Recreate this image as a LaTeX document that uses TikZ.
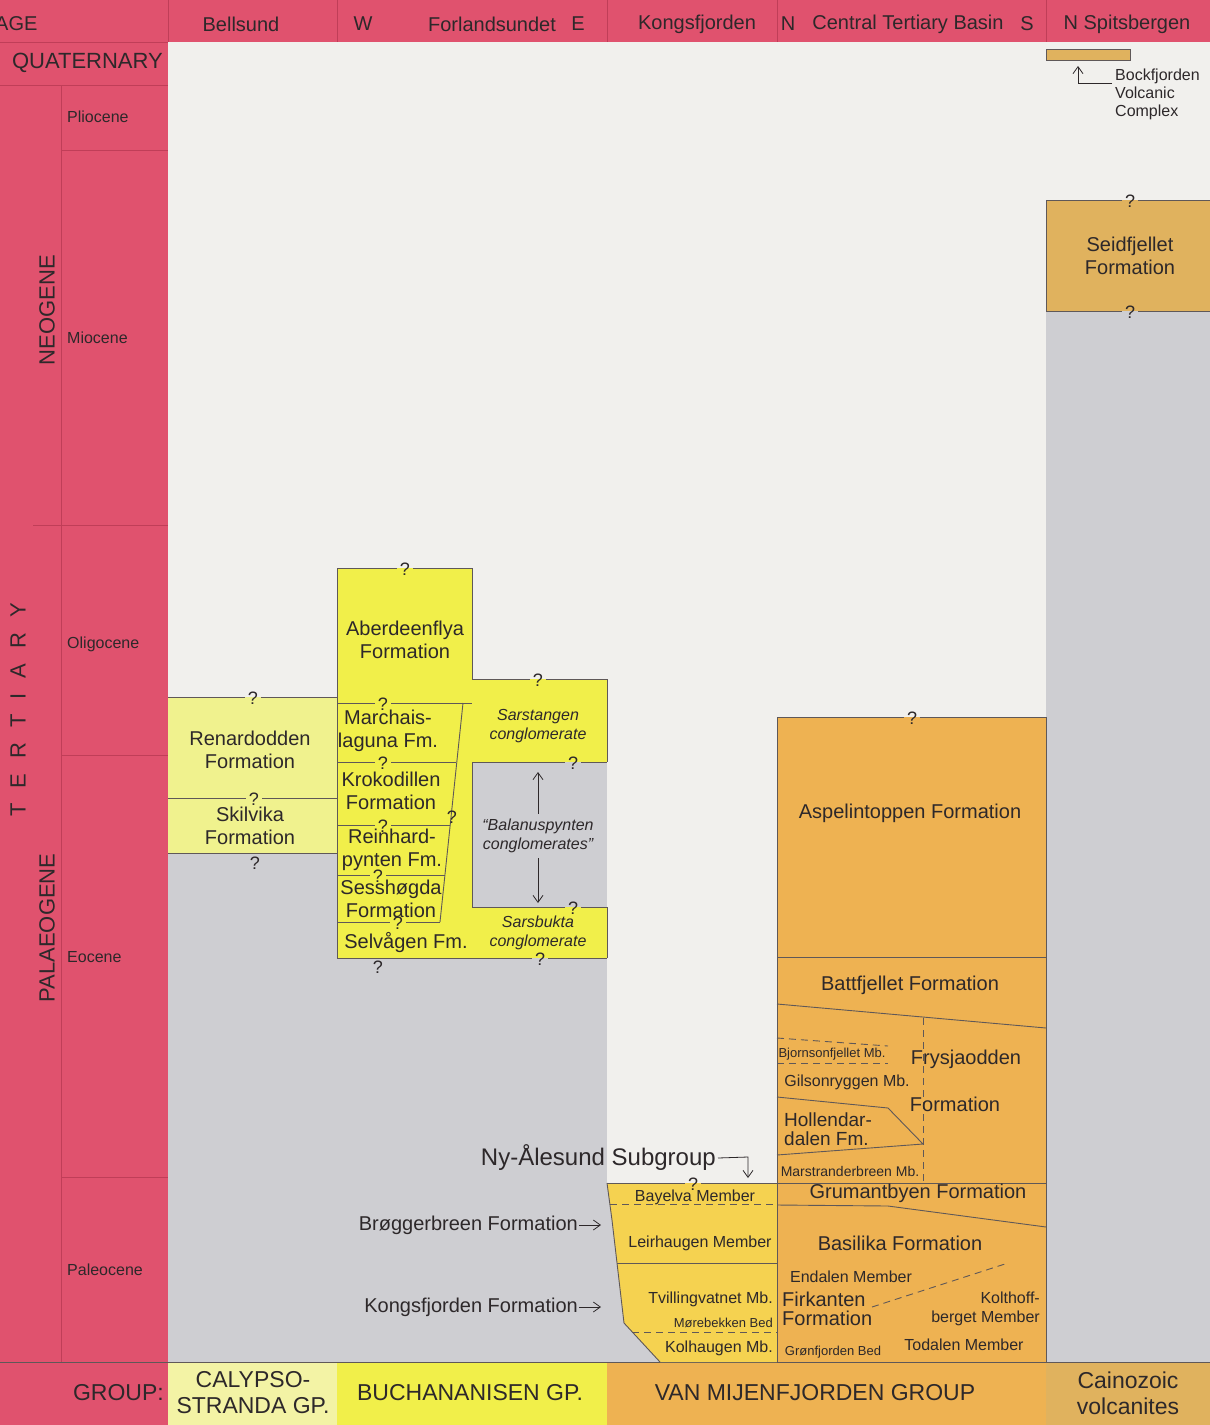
\documentclass[tikz,border=0pt]{standalone}
\usepackage{fontspec}
\setmainfont{Liberation Sans}
\usetikzlibrary{arrows.meta}
\definecolor{pinkc}{RGB}{224,82,110}
\definecolor{pinkln}{RGB}{192,62,88}
\definecolor{bgw}{RGB}{241,240,237}
\definecolor{bgg}{RGB}{206,206,210}
\definecolor{paley}{RGB}{240,242,142}
\definecolor{calyc}{RGB}{243,243,165}
\definecolor{yel}{RGB}{241,239,74}
\definecolor{kyel}{RGB}{245,210,80}
\definecolor{orng}{RGB}{238,178,82}
\definecolor{tanc}{RGB}{224,178,94}
\definecolor{ink}{RGB}{45,40,42}
\definecolor{linec}{RGB}{95,88,88}
\newcommand{\fsz}[2]{\fontsize{#1pt}{#2pt}\selectfont}
\newcommand{\qline}[4]{%
  \draw[edge] (#1,#3) -- ({#4-8},#3) ({#4+8},#3) -- (#2,#3);
  \node[qm] at (#4,{#3+1}) {?};}
\begin{document}
\begin{tikzpicture}[x=1pt,y=-1pt,
  lbl/.style={text=ink, inner sep=0pt, align=center},
  edge/.style={draw=linec, line width=0.9pt},
  dedge/.style={draw=linec, line width=0.9pt, dash pattern=on 7pt off 5pt},
  pl/.style={draw=pinkln, line width=0.8pt},
  qm/.style={text=ink, inner sep=0pt, font=\fsz{18}{18}},
  arr/.style={draw=ink, line width=0.8pt, -{Straight Barb[length=7pt,width=10pt]}},
  hdr/.style={lbl, font=\fsz{20}{22}},
  fm/.style={lbl, font=\fsz{20}{23}},
  mb/.style={lbl, font=\fsz{16}{18}},
  sm/.style={lbl, font=\fsz{13}{15}},
  cg/.style={lbl, font=\fsz{16}{19}\itshape},
  grp/.style={lbl, font=\fsz{23}{26}}]
\useasboundingbox (0,0) rectangle (1210,1425);
% ---------- backgrounds
\fill[bgw] (168,42) rectangle (1210,1362);
\fill[bgg] (168,853) rectangle (607,1362);
\fill[bgg] (472,762) rectangle (607,907);
\fill[bgg] (607,1183) rectangle (665,1362);
\fill[bgg] (1046,311) rectangle (1210,1362);
% ---------- pink header and age column
\fill[pinkc] (0,0) rectangle (1210,42);
\fill[pinkc] (0,42) rectangle (168,1362);
\draw[pl] (168,0)--(168,42) (337,0)--(337,42) (607,0)--(607,42) (777,0)--(777,42) (1046,0)--(1046,42);
\draw[pl] (0,42)--(168,42) (0,85)--(168,85) (61,85)--(61,1362) (61,150)--(168,150)
  (33,525)--(168,525) (61,755)--(168,755) (61,1177)--(168,1177);
% ---------- group row
\fill[pinkc] (0,1362) rectangle (168,1425);
\fill[calyc] (168,1362) rectangle (337,1425);
\fill[yel] (337,1362) rectangle (607,1425);
\fill[orng] (607,1362) rectangle (1046,1425);
\fill[tanc] (1046,1362) rectangle (1210,1425);
\draw[edge] (0,1362) -- (1210,1362);
% ---------- header texts
\node[hdr, anchor=west] (hage) at (-5,24) {AGE};
\node[hdr] (hbel) at (241,24) {Bellsund};
\node[hdr] (hw) at (363,24) {W};
\node[hdr] (hfor) at (492,24) {Forlandsundet};
\node[hdr] (he) at (578,24) {E};
\node[hdr] (hkon) at (697,24) {Kongsfjorden};
\node[hdr] (hn) at (788,24) {N};
\node[hdr] (hctb) at (908,24) {Central Tertiary Basin};
\node[hdr] (hs) at (1027,24) {S};
\node[hdr] (hnsp) at (1127,24) {N Spitsbergen};
% ---------- age column texts
\node[lbl, font=\fsz{22}{22}, anchor=east] (quat) at (163,63) {QUATERNARY};
\node[mb, anchor=west] (plio) at (67,117) {Pliocene};
\node[mb, anchor=west] (mio) at (67,338) {Miocene};
\node[mb, anchor=west] (oli) at (67,644) {Oligocene};
\node[mb, anchor=west] (eoc) at (67,957) {Eocene};
\node[mb, anchor=west] (pal) at (67,1270) {Paleocene};
\node[lbl, font=\fsz{22}{22}, rotate=90] (neog) at (47,310) {NEOGENE};
\node[lbl, font=\fsz{22}{22}, rotate=90] (palg) at (47,928) {PALAEOGENE};
\node[lbl, font=\fsz{22}{22}, rotate=90] (tert) at (18,710)
  {T\hspace{15pt}E\hspace{15pt}R\hspace{15pt}T\hspace{15pt}I\hspace{15pt}A\hspace{15pt}R\hspace{15pt}Y};
% ---------- Bellsund
\fill[paley] (168,697) rectangle (337,853);
\qline{168}{337}{697}{253}
\qline{168}{337}{798}{254}
\draw[edge] (168,853) -- (337,853);
\node[qm] (qsk) at (255,863) {?};
\node[fm] (ren) at (250,750) {Renardodden\\Formation};
\node[fm] (ski) at (250,826) {Skilvika\\Formation};
% ---------- Forlandsundet (west part)
\fill[yel] (337,568) rectangle (472,958);
\draw[edge] (337,568) -- (337,958) -- (472,958) -- (472,568);
\qline{337}{472}{568}{405}
\qline{337}{472}{703}{383}
\draw[edge] (463,703) -- (440,922);
\qline{337}{456}{762}{383}
\qline{337}{450}{825}{383}
\qline{337}{445}{875}{378}
\qline{337}{440}{922}{398}
\node[qm] (qkr) at (452,817) {?};
\node[qm] (qse) at (378,967) {?};
\node[fm] (abe) at (405,640) {Aberdeenflya\\Formation};
\node[fm] (mar) at (388,731) {Marchais-\\laguna Fm.};
\node[fm] (kro) at (391,791) {Krokodillen\\Formation};
\node[fm] (rei) at (392,850) {Reinhard-\\pynten Fm.};
\node[fm] (ses) at (391,899) {Sesshøgda\\Formation};
\node[fm] (sel) at (406,943) {Selvågen Fm.};
% ---------- Forlandsundet (east part)
\fill[yel] (472,679) rectangle (607,762);
\fill[yel] (472,907) rectangle (607,958);
\draw[edge] (607,679)--(607,762) (607,907)--(607,958);
\qline{472}{607}{679}{538}
\qline{472}{607}{762}{573}
\qline{472}{607}{907}{573}
\qline{472}{607}{958}{540}
\node[cg] (sars) at (538,726) {Sarstangen\\conglomerate};
\node[cg] (bal) at (538,836) {“Balanuspynten\\conglomerates”};
\node[cg] (sarb) at (538,933) {Sarsbukta\\conglomerate};
\coordinate (balup) at (538,772);
\coordinate (baldn) at (538,903);
\draw[arr] ([yshift=5pt]bal.north) -- (balup);
\draw[arr] ([yshift=-5pt]bal.south) -- (baldn);
% ---------- Kongsfjorden
\fill[kyel] (607,1183) -- (777,1183) -- (777,1362) -- (660,1362) -- (624,1323) -- (612,1220) -- cycle;
\draw[edge] (660,1362) -- (624,1323) -- (612,1220) -- (607,1183);
\qline{607}{777}{1183}{693}
\draw[dedge] (610,1204) -- (777,1204);
\draw[edge] (617,1263) -- (1046,1263);
\draw[dedge] (632,1332) -- (1046,1332);
\node[mb] (bay) at (695,1197) {Bayelva Member};
\node[mb] (lei) at (700,1243) {Leirhaugen Member};
\node[mb, anchor=east] (tvi) at (773,1299) {Tvillingvatnet Mb.};
\node[sm, anchor=east] (mor) at (773,1323) {Mørebekken Bed};
\node[mb, anchor=east] (kol) at (773,1348) {Kolhaugen Mb.};
% ---------- Central Tertiary Basin
\fill[orng] (777,717) rectangle (1046,1362);
\draw[edge] (777,1362) -- (777,717);
\draw[edge] (1046,717) -- (1046,1362);
\qline{777}{1046}{717}{912}
\draw[edge] (777,957)--(1046,957);
\draw[edge] (777,1004)--(1046,1028);
\draw[dedge] (923,1018)--(923,1183);
\draw[dedge] (777,1038)--(888,1046);
\draw[dedge] (777,1063)--(888,1063);
\draw[edge] (777,1097)--(888,1108)--(923,1144)--(777,1155);
\draw[edge] (777,1183)--(1046,1183);
\draw[edge] (777,1205)--(888,1206)--(1046,1227);
\draw[dedge] (872,1307)--(1008,1263);
\node[fm] (asp) at (910,813) {Aspelintoppen Formation};
\node[fm] (bat) at (910,985) {Battfjellet Formation};
\node[sm] (bjo) at (832,1054) {Bjornsonfjellet Mb.};
\node[mb] (gil) at (847,1082) {Gilsonryggen Mb.};
\node[fm] (fry1) at (966,1059) {Frysjaodden};
\node[fm] (fry2) at (955,1104) {Formation};
\node[lbl, font=\fsz{19}{19}, align=left, anchor=west] (hol) at (784,1129) {Hollendar-\\dalen Fm.};
\node[lbl, font=\fsz{14}{14}] (mst) at (850,1171) {Marstranderbreen Mb.};
\node[fm] (gru) at (918,1193) {Grumantbyen Formation};
\node[fm] (bas) at (900,1243) {Basilika Formation};
\node[mb] (end) at (851,1277) {Endalen Member};
\node[lbl, font=\fsz{20}{19}, align=left, anchor=west] (fir) at (782,1309) {Firkanten\\Formation};
\node[lbl, font=\fsz{16}{19}, align=right, anchor=east] (kth) at (1040,1309) {Kolthoff-\\berget Member};
\node[sm] (gro) at (833,1352) {Grønfjorden Bed};
\node[mb] (tod) at (964,1345) {Todalen Member};
% ---------- labels with arrows on the left
\node[lbl, font=\fsz{24}{24}, anchor=east] (nya) at (716,1158) {Ny-Ålesund Subgroup};
\coordinate (nyb) at (748,1157);
\coordinate (nyc) at (748,1178);
\draw[arr] ([xshift=2pt]nya.east) -- (nyb) -- (nyc);
\node[fm, anchor=east] (bro) at (578,1225) {Brøggerbreen Formation};
\coordinate (broe) at (601,1225);
\draw[arr] ([xshift=1pt]bro.east) -- (broe);
\node[fm, anchor=east] (kfm) at (578,1307) {Kongsfjorden Formation};
\coordinate (kfme) at (601,1307);
\draw[arr] ([xshift=1pt]kfm.east) -- (kfme);
% ---------- N Spitsbergen
\fill[tanc] (1046,200) rectangle (1210,311);
\draw[edge] (1046,200)--(1046,311);
\qline{1046}{1210}{200}{1130}
\qline{1046}{1210}{311}{1130}
\node[fm] (sei) at (1130,256) {Seidfjellet\\Formation};
\fill[tanc, draw=linec, line width=0.6pt] (1046,49) rectangle (1130,60);
\node[lbl, font=\fsz{16}{18}, align=left, anchor=west] (bock) at (1115,94) {Bockfjorden\\Volcanic\\Complex};
\coordinate (bka) at (1078,83);
\coordinate (bkb) at (1078,66);
\draw[arr] ([xshift=-3pt,yshift=11pt]bock.west) -- (bka) -- (bkb);
% ---------- group row texts
\node[grp, anchor=east] (g0) at (164,1393) {GROUP:};
\node[grp] (g1) at (253,1393) {CALYPSO-\\STRANDA GP.};
\node[grp] (g2) at (470,1393) {BUCHANANISEN GP.};
\node[grp] (g3) at (815,1393) {VAN MIJENFJORDEN GROUP};
\node[grp] (g4) at (1128,1393) {Cainozoic\\volcanites};
\end{tikzpicture}
\end{document}
